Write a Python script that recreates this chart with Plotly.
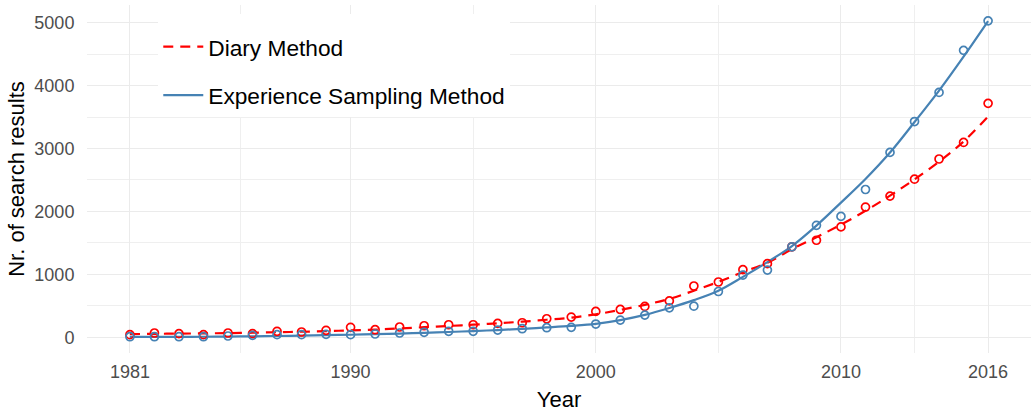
import plotly.graph_objects as go

years = list(range(1981, 2017))

diary_points = [41, 68, 57, 41, 68, 57, 94, 84, 110, 158,
                120, 163, 183, 199, 199, 221, 231, 294, 321, 411,
                442, 490, 578, 815, 878, 1074, 1170, 1438, 1542, 1754,
                2069, 2243, 2512, 2833, 3096, 3717]

esm_points = [9, 9, 9, 9, 20, 31, 41, 41, 47, 41,
              52, 68, 79, 95, 95, 115, 136, 152, 158, 210,
              273, 352, 468, 494, 727, 989, 1068, 1438, 1779, 1921,
              2348, 2938, 3428, 3891, 4559, 5028]

diary_fit = [50, 55, 58, 62, 66, 72, 80, 88, 98, 110,
             122, 140, 160, 180, 200, 222, 248, 278, 312, 365,
             435, 515, 610, 740, 880, 1035, 1185, 1400, 1590, 1790,
             2010, 2250, 2510, 2790, 3110, 3510]

esm_fit = [5, 5, 6, 8, 11, 15, 20, 26, 33, 40,
           49, 59, 71, 84, 98, 115, 134, 156, 180, 213,
           272, 355, 465, 590, 740, 960, 1195, 1450, 1775, 2140,
           2515, 2935, 3420, 3920, 4460, 5025]

x_ticks = [1981, 1990, 2000, 2010, 2016]
x_minor = [1985.5, 1995, 2005, 2013]
y_ticks = [0, 1000, 2000, 3000, 4000, 5000]
y_minor = [500, 1500, 2500, 3500, 4500]

RED = "#FF0000"
BLUE = "#4682B4"
FONT = "Liberation Sans, Arial, Helvetica, sans-serif"

fig = go.Figure()

fig.add_trace(go.Scatter(
    x=years, y=diary_fit, mode="lines", name="Diary Method",
    line=dict(color=RED, width=2.2, dash="10px,7px", shape="spline"),
    legendgroup="d", showlegend=True))
fig.add_trace(go.Scatter(
    x=years, y=esm_fit, mode="lines", name="Experience Sampling Method",
    line=dict(color=BLUE, width=2.2, shape="spline"),
    legendgroup="e", showlegend=True))
fig.add_trace(go.Scatter(
    x=years, y=diary_points, mode="markers", name="Diary Method",
    marker=dict(symbol="circle-open", size=8, color=RED, line=dict(width=1.7, color=RED)),
    legendgroup="d", showlegend=False))
fig.add_trace(go.Scatter(
    x=years, y=esm_points, mode="markers", name="Experience Sampling Method",
    marker=dict(symbol="circle-open", size=8, color=BLUE, line=dict(width=1.7, color=BLUE)),
    legendgroup="e", showlegend=False))

fig.update_layout(
    width=1032, height=412,
    margin=dict(l=87, r=1, t=5, b=57),
    paper_bgcolor="white", plot_bgcolor="white",
    font=dict(family=FONT, color="#000000"),
    showlegend=True,
    legend=dict(
        x=0.0755, y=0.975, xanchor="left", yanchor="top",
        bgcolor="white", borderwidth=0,
        font=dict(size=22.7, color="#000000", family=FONT),
        title=dict(text=" ", font=dict(size=9)),
        itemwidth=40,
        tracegroupgap=16, traceorder="grouped",
    ),
    xaxis=dict(
        range=[1979.25, 2017.75],
        tickvals=x_ticks, ticktext=[str(v) for v in x_ticks],
        showgrid=True, gridcolor="#EBEBEB", gridwidth=1.3,
        minor=dict(tickvals=x_minor, showgrid=True, gridcolor="#EFEFEF", gridwidth=0.8),
        zeroline=False, showline=False,
        ticks="outside", ticklen=2, tickcolor="rgba(0,0,0,0)",
        tickfont=dict(size=18, color="#4D4D4D", family=FONT),
        title=dict(text="Year", font=dict(size=22, color="#000000", family=FONT), standoff=14),
    ),
    yaxis=dict(
        range=[-250, 5280],
        tickvals=y_ticks, ticktext=[str(v) for v in y_ticks],
        showgrid=True, gridcolor="#EBEBEB", gridwidth=1.3,
        minor=dict(tickvals=y_minor, showgrid=True, gridcolor="#EFEFEF", gridwidth=0.8),
        zeroline=False, showline=False,
        ticks="outside", ticklen=8, tickcolor="rgba(0,0,0,0)",
        tickfont=dict(size=18, color="#4D4D4D", family=FONT),
        title=dict(text="Nr. of search results", font=dict(size=22, color="#000000", family=FONT), standoff=3),
    ),
)

fig.write_html("out.html", config={"displayModeBar": False},
               post_script="document.body.style.margin='0px';document.body.style.overflow='hidden';")
